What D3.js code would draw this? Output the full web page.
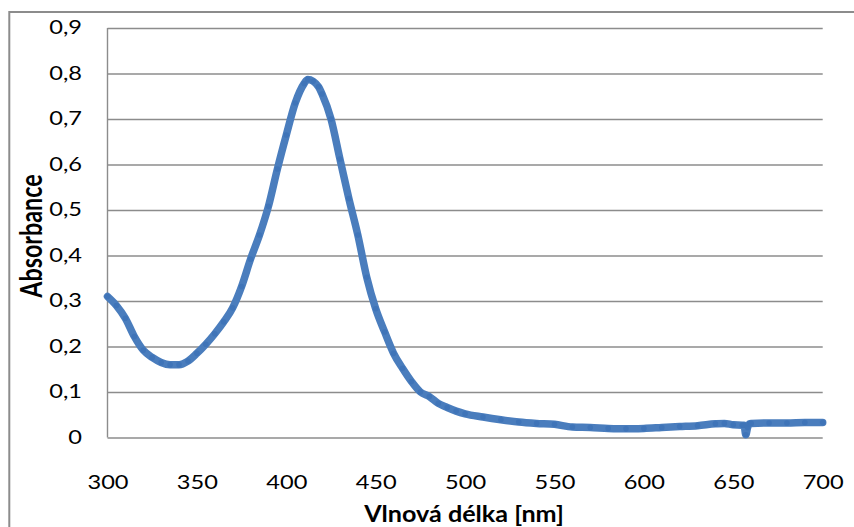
<!DOCTYPE html>
<html>
<head>
<meta charset="utf-8">
<script src="https://cdn.jsdelivr.net/npm/d3@7"></script>
<style>
  body { margin: 0; background: #fff; }
  svg { display: block; }
</style>
</head>
<body>
<script>
// wavelength (nm) and absorbance
var wavelength = [300, 305, 310, 315, 320, 325, 330, 335, 340, 345, 350, 355, 360, 365, 370, 375, 380, 385, 390, 395,
                  400, 405, 410, 412, 415, 418, 420, 425, 430, 435, 440, 445, 450, 455, 460, 465, 470, 475, 480, 485,
                  490, 495, 500, 510, 520, 530, 540, 550, 560, 570, 580, 590, 600, 610, 620, 630, 640, 645, 650, 655,
                  656, 657, 658, 659, 660, 670, 680, 690, 700]
var absorbance = [0.310, 0.290, 0.262, 0.222, 0.192, 0.176, 0.165, 0.160, 0.160, 0.168, 0.185, 0.205, 0.228, 0.254, 0.285, 0.332, 0.392, 0.445, 0.508, 0.590,
                  0.665, 0.735, 0.778, 0.787, 0.783, 0.771, 0.755, 0.700, 0.612, 0.525, 0.445, 0.352, 0.283, 0.232, 0.185, 0.152, 0.123, 0.100, 0.090, 0.075,
                  0.066, 0.058, 0.052, 0.045, 0.039, 0.034, 0.031, 0.029, 0.023, 0.022, 0.020, 0.019, 0.020, 0.022, 0.024, 0.026, 0.030, 0.031, 0.028, 0.027,
                  0.027, 0.006, 0.022, 0.030, 0.031, 0.032, 0.032, 0.033, 0.033]

var xTicks = [300, 350, 400, 450, 500, 550, 600, 650, 700]
var yTicks = [0, 0.1, 0.2, 0.3, 0.4, 0.5, 0.6, 0.7, 0.8, 0.9]
var yTickLabels = ["0", "0,1", "0,2", "0,3", "0,4", "0,5", "0,6", "0,7", "0,8", "0,9"]

var xTitle = "Vlnová délka [nm]"
var yTitle = "Absorbance"

var w = 854
var h = 527
var plotLeft = 107.5, plotRight = 822.7, plotTop = 28, plotBottom = 437.5
var grey = "#8c8c8c"
var stretch = 1.27

var svg = d3.select("body")
            .append("svg")
            .attr("width", w)
            .attr("height", h)

// chart frame (runs off the picture at right and bottom)
svg.append("rect")
   .attr("x", 9.3)
   .attr("y", 12)
   .attr("width", 900)
   .attr("height", 600)
   .attr("fill", "none")
   .attr("stroke", grey)
   .attr("stroke-width", 2)

var x = d3.scaleLinear()
    .domain([300, 700])
    .range([plotLeft, plotRight])

var y = d3.scaleLinear()
    .domain([0, 0.9])
    .range([plotBottom, plotTop])

// horizontal gridlines
var grid = svg.append("g")
   .attr("transform", "translate(" + plotLeft + ",0)")
   .call(d3.axisLeft(y).tickValues(yTicks).tickSize(-(plotRight - plotLeft)).tickFormat(""))
grid.select(".domain").remove()
grid.selectAll("line")
    .attr("stroke", grey)
    .attr("stroke-width", 1.4)

// vertical axis line
svg.append("line")
   .attr("x1", plotLeft).attr("x2", plotLeft)
   .attr("y1", plotTop).attr("y2", plotBottom)
   .attr("stroke", grey)
   .attr("stroke-width", 1.4)

// y tick labels
var yAxis = svg.append("g")
   .attr("transform", "translate(" + plotLeft + ",0)")
   .call(d3.axisLeft(y).tickValues(yTicks).tickSize(0).tickFormat(function(d, i) { return yTickLabels[i] }))
yAxis.select(".domain").remove()
yAxis.selectAll("text")
     .attr("x", 0)
     .attr("transform", "translate(-25.5,0) scale(" + stretch + ",1)")

// x tick labels
var xAxis = svg.append("g")
   .attr("transform", "translate(0," + plotBottom + ")")
   .call(d3.axisBottom(x).tickValues(xTicks).tickSize(0).tickFormat(d3.format("d")))
xAxis.select(".domain").remove()
xAxis.selectAll("text")
     .attr("y", 51.5)
     .attr("dy", 0)
     .attr("transform", "scale(" + stretch + ",1)")

svg.selectAll(".tick text")
   .attr("font-family", "Lato, sans-serif")
   .attr("font-size", "18.6px")
   .attr("fill", "#000")

// axis titles
svg.append("text")
   .attr("transform", "translate(464,521.5) scale(1.08,1)")
   .attr("text-anchor", "middle")
   .attr("font-family", "Lato, sans-serif")
   .attr("font-weight", "bold")
   .attr("font-size", "23.3px")
   .text(xTitle)

svg.append("text")
   .attr("transform", "translate(42,236) rotate(-90) scale(1," + stretch + ")")
   .attr("text-anchor", "middle")
   .attr("font-family", "Lato, sans-serif")
   .attr("font-weight", "bold")
   .attr("font-size", "23.3px")
   .text(yTitle)

// the spectrum: dense markers form a thick band
var data = wavelength.map(function(d, i) { return [d, absorbance[i]] })

svg.append("path")
   .datum(data)
   .attr("fill", "none")
   .attr("stroke", "#4a7dbd")
   .attr("stroke-width", 7.5)
   .attr("stroke-linejoin", "round")
   .attr("stroke-linecap", "round")
   .attr("d", d3.line()
       .x(function(d) { return x(d[0]) })
       .y(function(d) { return y(d[1]) })
       .curve(d3.curveMonotoneX))

svg.selectAll("circle")
   .data(data)
   .enter()
   .append("circle")
   .attr("cx", function(d) { return x(d[0]) })
   .attr("cy", function(d) { return y(d[1]) })
   .attr("r", 2.8)
   .attr("fill", "#3f74b8")
</script>
</body>
</html>
